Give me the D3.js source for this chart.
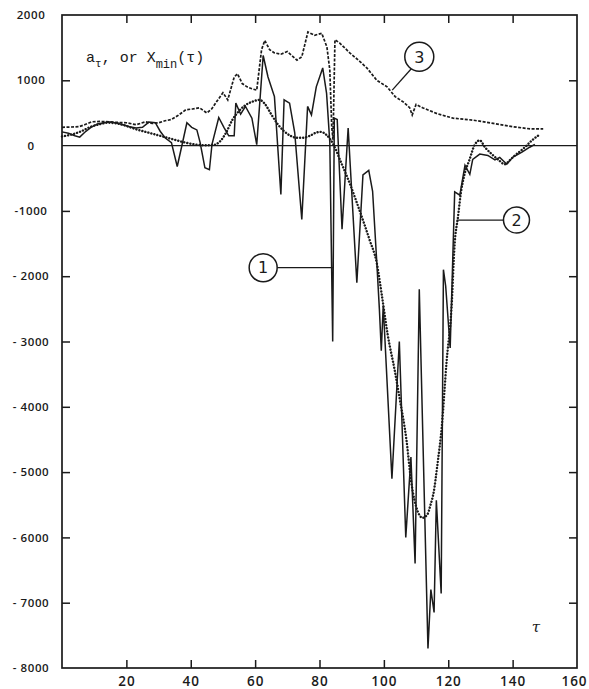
<!DOCTYPE html>
<html>
<head>
<meta charset="utf-8">
<script src="https://cdn.jsdelivr.net/npm/d3@7"></script>
<style>
  html, body { margin: 0; padding: 0; background: #fff; }
  svg { display: block; }
  .lbl { font-family: "Open Sans", "DejaVu Sans", sans-serif; font-weight: 600; fill: #1a1a1a; }
</style>
</head>
<body>
<script>
// Curve 1: a_tau (solid)
const tau1 = [0,2,4,5.5,7,9,11,13,15,17,19,21,23,25,27,29,30.5,32,34,35.8,37.2,38.8,40.3,41.9,42.9,44.4,45.8,46.6,48.7,50.3,51.8,53.5,54,55.5,57,59,60.5,62.5,64,66,68,69,70.7,72.3,74.5,76.3,77.5,79,81,82.2,83.2,84.1,84.6,85.5,87,88.9,91.6,93.5,95.3,96.5,97.8,98.6,99.2,99.8,102.5,104.8,106.8,108.4,109.7,111,113.7,114.6,115.6,116.3,117.8,118.5,119.2,120.6,122,123.6,125.2,126.7,127.6,129.8,132.3,134.5,136,138.2,140,142.9,145.3,146.9];
const val1 = [210,190,150,130,200,280,330,350,360,345,320,290,270,280,360,350,220,120,45,-320,-10,350,280,240,50,-340,-370,20,430,280,150,150,650,480,600,420,15,1380,1050,750,-750,700,650,200,-1130,600,470,900,1190,800,50,-3000,420,400,-1280,270,-2100,-450,-380,-700,-1790,-2500,-3140,-2450,-5100,-3000,-6000,-4770,-6400,-2200,-7700,-6800,-7150,-5430,-6860,-1900,-2150,-3100,-710,-760,-300,-440,-210,-130,-150,-220,-180,-285,-180,-100,-25,20];

// Curve 2: X_min(tau) (heavy dots)
const tau2 = [0,3,6,9,12,14,17,20,23,26,29,32,35,38,41,44,47,49,51,53,55,57,59,61.4,63,65,67,69,71,73,75,77,79,80.5,82,83.3,84.5,86.3,89.4,92.5,95.6,97.8,99.4,101.2,103.4,105,107,108.5,110.5,112,113.5,114.5,115.5,116.6,118,119.5,121,122,123,124,125,126.5,128.3,129.8,131.4,133.5,135.4,137.6,139,140.7,142.5,143.8,146,148.4];
const val2 = [140,170,220,290,330,350,340,300,250,210,170,130,90,50,20,5,10,60,200,400,530,620,670,700,640,480,330,220,150,120,120,150,200,210,170,100,0,-210,-580,-1000,-1450,-1800,-2300,-2900,-3450,-3900,-4500,-5150,-5600,-5700,-5650,-5500,-5300,-4900,-4300,-3300,-2500,-1500,-1100,-700,-450,-230,20,80,-25,-130,-210,-285,-230,-150,-80,-25,80,170];

// Curve 3 (fine dashes)
const tau3 = [0,3,5.3,7,9.3,12,14.6,17,20,23,26,28,30,32,34,36,38.5,40.5,42.7,45,46.5,48,50,51.5,53.5,54.5,56,57.5,59,60.5,62,63,64.5,66,68,70,73,74.5,76.4,78.5,80.7,82.3,83.2,83.8,84.2,84.8,86.3,89.4,92.5,94.7,97.8,101,103.5,106,108,108.8,110,112,114,116.5,121.5,127.7,134,140,145.5,149.5];
const val3 = [280,285,290,320,365,370,365,355,350,320,365,340,350,380,400,460,550,560,580,500,560,670,810,700,1050,1100,950,900,870,850,1470,1610,1470,1420,1400,1440,1310,1360,1740,1690,1720,1510,1160,290,90,1620,1570,1420,1290,1190,1000,900,750,670,580,470,630,580,540,490,420,390,340,290,256,255];

const xTicks = [20,40,60,80,100,120,140,160];
const xTickLabels = ["20","40","60","80","100","120","140","160"];
const yTicks = [2000,1000,0,-1000,-2000,-3000,-4000,-5000,-6000,-7000,-8000];
const yTickLabels = ["2000","1000","0","-1000","- 2000","- 3000","- 4000","- 5000","- 6000","- 7000","- 8000"];

const W = 589, H = 689;
const plotL = 62, plotR = 577, plotT = 15, plotB = 668;
const ink = "#1a1a1a";

const svg = d3.select("body").append("svg").attr("width", W).attr("height", H);

const x = d3.scaleLinear().domain([0, 160]).range([plotL, plotR]);
const y = d3.scaleLinear().domain([-8000, 2000]).range([plotB, plotT]);

// inward ticks on all four sides
const tickLen = 8;
svg.append("g").attr("transform", `translate(0,${plotB})`)
  .call(d3.axisBottom(x).tickValues(xTicks).tickSizeInner(-tickLen).tickSizeOuter(0).tickPadding(8)
    .tickFormat((d, i) => xTickLabels[i]))
  .call(g => g.select(".domain").remove())
  .call(g => g.selectAll(".tick line").attr("stroke", ink).attr("stroke-width", 1.5)
    .filter(d => d === 160).remove())
  .call(g => g.selectAll("text").attr("class", "lbl").style("font-size", "13.5px")
    .style("letter-spacing", "1px"))
  // the last label sits at the frame corner; nudge it inside the page
  .call(g => g.selectAll("text").filter(d => d === 160).attr("x", -3));

svg.append("g").attr("transform", `translate(0,${plotT})`)
  .call(d3.axisTop(x).tickValues(xTicks.slice(0, -1)).tickSizeInner(-tickLen).tickSizeOuter(0).tickFormat(""))
  .call(g => g.select(".domain").remove())
  .call(g => g.selectAll(".tick line").attr("stroke", ink).attr("stroke-width", 1.5));

svg.append("g").attr("transform", `translate(${plotL},0)`)
  .call(d3.axisLeft(y).tickValues(yTicks).tickSizeInner(-tickLen).tickSizeOuter(0)
    .tickFormat((d, i) => yTickLabels[i]))
  .call(g => g.select(".domain").remove())
  .call(g => g.selectAll(".tick line").attr("stroke", ink).attr("stroke-width", 1.5)
    .filter(d => d === 2000 || d === -8000 || d === 0).remove())
  .call(g => g.selectAll("text").attr("class", "lbl").attr("x", -31)
    .attr("text-anchor", "middle").style("font-size", "11.5px").style("letter-spacing", "0.6px"));

svg.append("g").attr("transform", `translate(${plotR},0)`)
  .call(d3.axisRight(y).tickValues(yTicks.filter(v => v !== 2000 && v !== -8000 && v !== 0))
    .tickSizeInner(-tickLen).tickSizeOuter(0).tickFormat(""))
  .call(g => g.select(".domain").remove())
  .call(g => g.selectAll(".tick line").attr("stroke", ink).attr("stroke-width", 1.5));

// frame
svg.append("rect")
  .attr("x", plotL).attr("y", plotT).attr("width", plotR - plotL).attr("height", plotB - plotT)
  .attr("fill", "none").attr("stroke", ink).attr("stroke-width", 1.7);

// zero line
svg.append("line")
  .attr("x1", plotL).attr("x2", plotR).attr("y1", y(0)).attr("y2", y(0))
  .attr("stroke", ink).attr("stroke-width", 1.3);

// curves
const pts = (t, v) => t.map((d, i) => [d, v[i]]);

svg.append("path").datum(pts(tau3, val3))
  .attr("d", d3.line().x(d => x(d[0])).y(d => y(d[1])))
  .attr("fill", "none").attr("stroke", ink)
  .attr("stroke-width", 1.7).attr("stroke-dasharray", "3,1.5");

svg.append("path").datum(pts(tau2, val2))
  .attr("d", d3.line().x(d => x(d[0])).y(d => y(d[1])).curve(d3.curveMonotoneX))
  .attr("fill", "none").attr("stroke", ink)
  .attr("stroke-width", 2.4).attr("stroke-linecap", "round").attr("stroke-dasharray", "0.1,3");

svg.append("path").datum(pts(tau1, val1))
  .attr("d", d3.line().x(d => x(d[0])).y(d => y(d[1])))
  .attr("fill", "none").attr("stroke", ink)
  .attr("stroke-width", 1.5).attr("stroke-linejoin", "miter");

// vertical axis title
const title = svg.append("text")
  .attr("x", 86).attr("y", 62)
  .style("font-family", "'Liberation Mono', 'DejaVu Sans Mono', monospace")
  .style("font-size", "15px").attr("fill", ink);
title.append("tspan").text("a");
title.append("tspan").attr("dy", 5).style("font-size", "11px").text("\u03C4");
title.append("tspan").attr("dy", -5).text(", or X");
title.append("tspan").attr("dy", 6).style("font-size", "12px").text("min");
title.append("tspan").attr("dy", -6).text("(\u03C4)");

// horizontal axis name
svg.append("text").attr("x", 536).attr("y", 632)
  .attr("text-anchor", "middle")
  .style("font-family", "'DejaVu Serif', serif").style("font-style", "italic")
  .style("font-size", "15px").attr("fill", ink).text("\u03C4");

// circled curve numbers with leader lines
function tag(cx, cy, r, label, x1, y1, x2, y2) {
  svg.append("line").attr("x1", x1).attr("y1", y1).attr("x2", x2).attr("y2", y2)
    .attr("stroke", ink).attr("stroke-width", 1.3);
  svg.append("circle").attr("cx", cx).attr("cy", cy).attr("r", r)
    .attr("fill", "#fff").attr("stroke", ink).attr("stroke-width", 1.5);
  svg.append("text").attr("x", cx).attr("y", cy).attr("dy", "0.36em")
    .attr("text-anchor", "middle")
    .style("font-family", "'DejaVu Sans', sans-serif").style("font-size", "16px")
    .attr("fill", ink).text(label);
}
tag(x(62.5), y(-1870), 14, "1", x(62.5) + 14, y(-1870), x(84.1), y(-1870));
tag(x(141.2), y(-1140), 13, "2", x(141.2) - 13, y(-1140), x(122.6), y(-1140));
tag(x(111), y(1360), 14.5, "3", x(111) - 8, y(1360) + 12, x(102.6), y(850));
</script>
</body>
</html>
